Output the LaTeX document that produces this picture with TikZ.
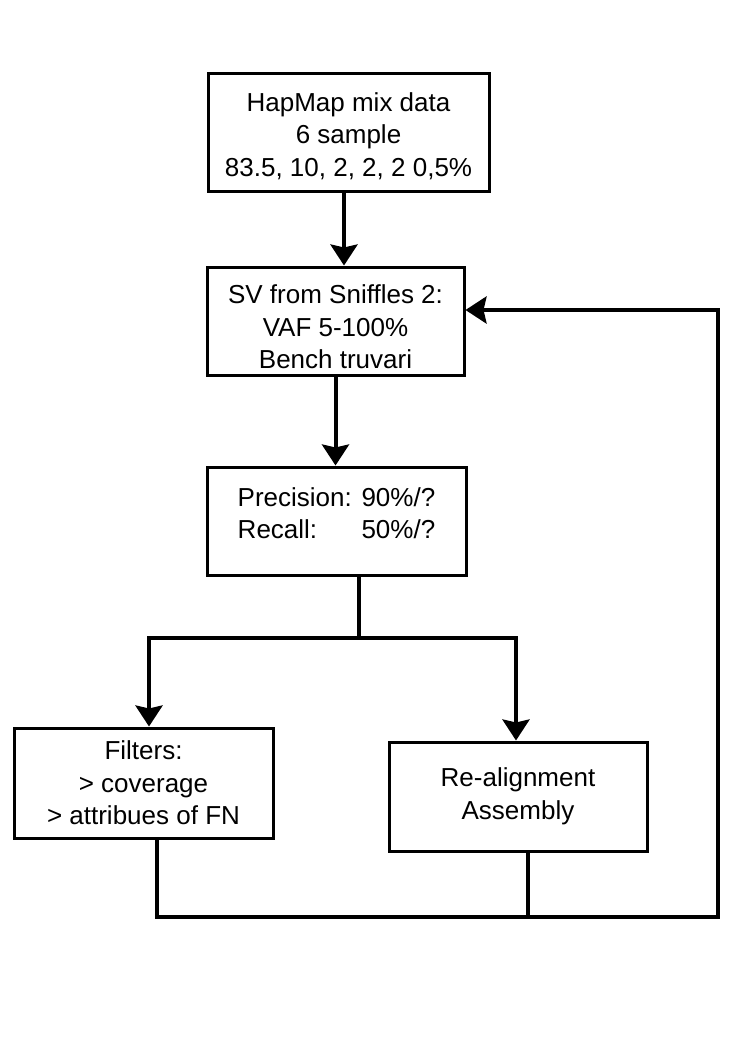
\documentclass[tikz,border=0pt]{standalone}
\usepackage{fontspec}
\setmainfont{Liberation Sans}
\usetikzlibrary{arrows.meta}
\begin{document}
\begin{tikzpicture}[x=1pt,y=-1pt,
  box/.style={draw,line width=3pt,inner sep=0pt},
  txt/.style={inner sep=0pt,align=center,font=\fontsize{26}{32.5}\selectfont},
  conn/.style={line width=4pt},
  arr/.style={conn,-{Stealth[length=21pt,width=27pt,inset=3pt]}}]
\useasboundingbox (0,0) rectangle (744,1052);
\node[box,minimum width=281pt,minimum height=118pt] (b1) at (348.5,132) {};
\node[txt,yshift=-4pt] (t1) at (b1.center)
  {HapMap mix data\\6 sample\\83.5, 10, 2, 2, 2 0,5\%};
\node[box,minimum width=257pt,minimum height=108pt] (b2) at (335.5,321) {};
\node[txt,yshift=-6pt] (t2) at (b2.center)
  {SV from Sniffles 2:\\VAF 5-100\%\\Bench truvari};
\node[box,minimum width=259pt,minimum height=108pt] (b3) at (336.5,521) {};
\node[txt,yshift=5pt] (t3) at (b3.center)
  {\begin{tabular}{@{}l@{ }l@{}}Precision: & 90\%/?\\Recall: & 50\%/?\end{tabular}};
\node[box,minimum width=259pt,minimum height=110pt] (b4) at (143.5,783) {};
\node[txt] (t4) at (b4.center)
  {Filters:\\> coverage\\> attribues of FN};
\node[box,minimum width=258pt,minimum height=109pt] (b5) at (518,796.5) {};
\node[txt] (t5) at (b5.center)
  {Re-alignment\\Assembly};
\coordinate (sp) at (359,638);
\coordinate (bl) at (157,917);
\coordinate (br) at (718,917);
\coordinate (tr) at (718,310);
\draw[arr] ([xshift=-4.5pt]b1.south) -- ([xshift=-4.5pt]b1.south |- b2.north);
\draw[arr] (b2.south) -- (b2.south |- b3.north);
\draw[conn] (b3.south -| sp) -- (sp);
\draw[arr] ([xshift=-0.1pt]sp) -| ([xshift=5.5pt]b4.north);
\draw[arr] ([xshift=0.1pt]sp) -| ([xshift=-2pt]b5.north);
\draw[arr] (b4.south -| bl) -- (bl) -- (br) -- (tr) -- (tr -| b2.east);
\draw[conn] (b5.south -| 528,0) -- (528,917);
\end{tikzpicture}
\end{document}
